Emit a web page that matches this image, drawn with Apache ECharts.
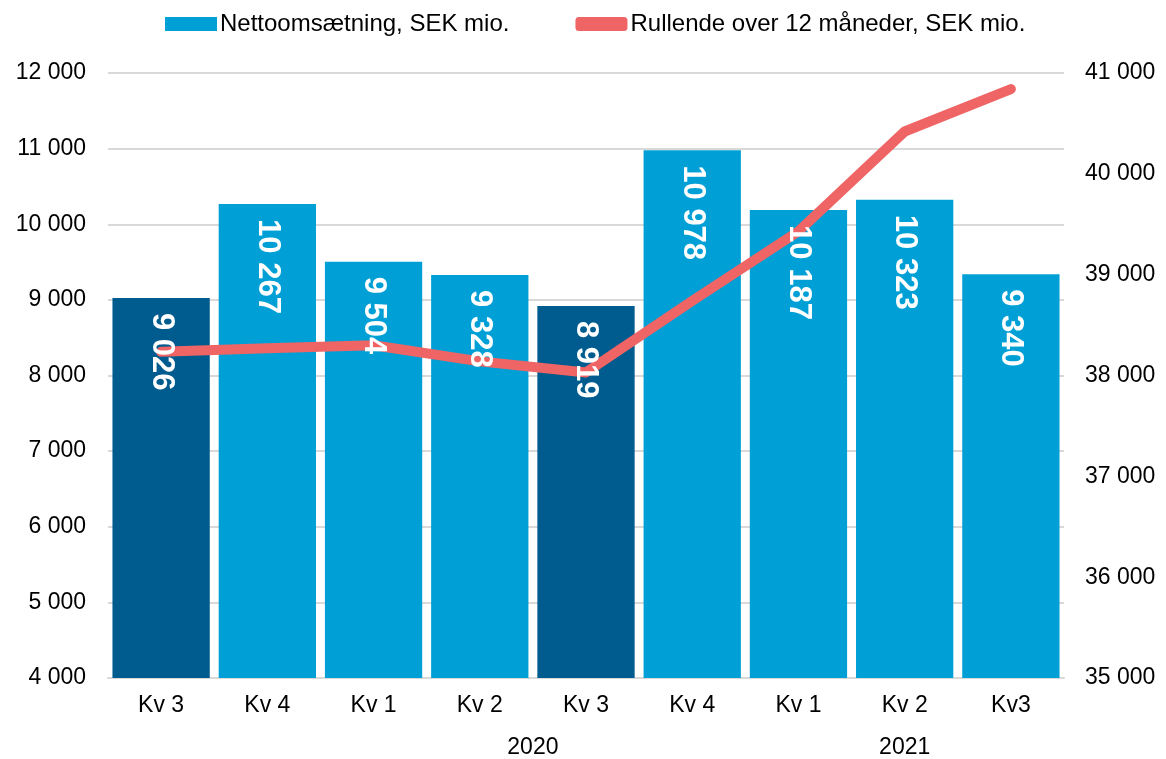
<!DOCTYPE html>
<html>
<head>
<meta charset="utf-8">
<script src="https://cdn.jsdelivr.net/npm/echarts@6/dist/echarts.min.js"></script>
<style>html,body{margin:0;padding:0;background:#fff}#c{width:1166px;height:759px}</style>
</head>
<body>
<div id="c"></div>
<script>
const categories = ['Kv 3', 'Kv 4', 'Kv 1', 'Kv 2', 'Kv 3', 'Kv 4', 'Kv 1', 'Kv 2', 'Kv3'];
const netSales = [9026, 10267, 9504, 9328, 8919, 10978, 10187, 10323, 9340];
const rolling12 = [38235, 38270, 38300, 38140, 38030, 38740, 39430, 40420, 40840];
const highlighted = [0, 4];
const yearLabels = ['2020', '2021'];
const yearFirstIndex = [2, 6];
const yearLastIndex = [5, 8];
const leftTicks = { min: 4000, max: 12000, step: 1000 };
const rightTicks = { min: 35000, max: 41000, step: 1000 };
const seriesNames = ['Nettoomsætning, SEK mio.', 'Rullende over 12 måneder, SEK mio.'];

const LIGHT = '#00A0D6', DARK = '#005B8E', RED = '#EF6464';
const fmt = v => String(v).replace(/\B(?=(\d{3})+(?!\d))/g, ' ');
const yearCenters = yearLabels.map((_, i) => (yearFirstIndex[i] + yearLastIndex[i]) / 2);
const FONT = '"Liberation Sans", Arial, sans-serif';
const GAP = '8.4%';

const chart = echarts.init(document.getElementById('c'));
chart.setOption({
  animation: false,
  textStyle: { fontFamily: FONT },
  legend: {
    top: 7, left: 160, itemGap: 66, itemWidth: 52, itemHeight: 14,
    textStyle: { fontSize: 24, color: '#000', fontFamily: FONT, padding: [0, 0, 0, -2] },
    data: [
      { name: seriesNames[0], icon: 'rect', itemStyle: { color: LIGHT } },
      { name: seriesNames[1], icon: 'roundRect', itemStyle: { color: RED } }
    ]
  },
  grid: { left: 108, right: 102, top: 73, bottom: 81 },
  xAxis: [
    {
      type: 'category', data: categories,
      axisLine: { lineStyle: { color: '#D9D9D9', width: 2 } },
      axisTick: { show: false },
      axisLabel: { fontSize: 23, color: '#000', margin: 16, fontFamily: FONT }
    },
    {
      type: 'value', min: -0.5, max: 8.5, interval: 0.5, position: 'bottom', offset: 42,
      axisLine: { show: false }, axisTick: { show: false }, splitLine: { show: false },
      axisLabel: {
        fontSize: 23, color: '#000', margin: 16, fontFamily: FONT,
        formatter: v => { const i = yearCenters.indexOf(v); return i >= 0 ? yearLabels[i] : ''; }
      }
    }
  ],
  yAxis: [
    {
      type: 'value', min: leftTicks.min, max: leftTicks.max, interval: leftTicks.step,
      axisLabel: { fontSize: 23, color: '#000', margin: 22, formatter: fmt, fontFamily: FONT },
      axisLine: { show: false }, axisTick: { show: false },
      splitLine: { lineStyle: { color: '#D9D9D9', width: 2 } }
    },
    {
      type: 'value', min: rightTicks.min, max: rightTicks.max, interval: rightTicks.step,
      position: 'right',
      axisLabel: { fontSize: 23, color: '#000', margin: 21, formatter: fmt, fontFamily: FONT },
      axisLine: { show: false }, axisTick: { show: false }, splitLine: { show: false }
    }
  ],
  series: [
    {
      name: seriesNames[0], type: 'bar', barCategoryGap: GAP, barGap: '-100%', z: 2,
      data: netSales.map((v, i) => ({ value: v, itemStyle: { color: highlighted.includes(i) ? DARK : LIGHT } })),
      itemStyle: { color: LIGHT }
    },
    {
      name: seriesNames[1], type: 'line', yAxisIndex: 1, data: rolling12,
      symbol: 'none', z: 5,
      lineStyle: { color: RED, width: 10, cap: 'round', join: 'round' },
      itemStyle: { color: RED }
    },
    {
      name: 'labels', type: 'bar', barCategoryGap: GAP, barGap: '-100%', z: 10, silent: true,
      data: netSales,
      itemStyle: { color: 'rgba(0,0,0,0)' },
      label: {
        show: true, position: 'insideTop', rotate: -90, align: 'left', verticalAlign: 'middle',
        distance: 15, color: '#fff', fontWeight: 'bold', fontSize: 31, fontFamily: FONT,
        formatter: p => fmt(p.value)
      }
    }
  ]
});
</script>
</body>
</html>
